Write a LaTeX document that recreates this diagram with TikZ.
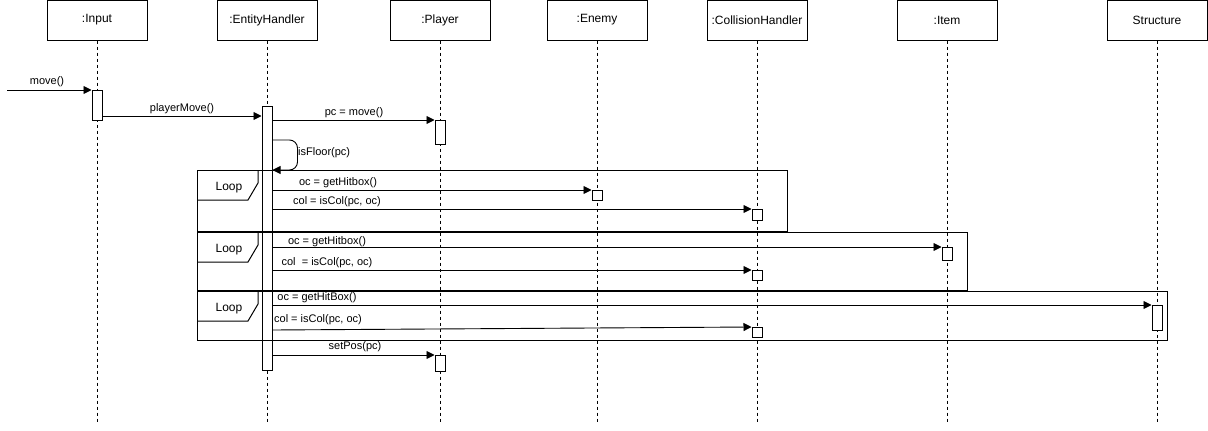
\documentclass[tikz,border=0pt]{standalone}
\usepackage{fontspec}
\setmainfont{Liberation Sans}
\usetikzlibrary{arrows.meta}

\begin{document}
\begin{tikzpicture}[x=1pt,y=-1pt]
  \tikzset{object/.style = {shape=rectangle,draw,line width=1pt,minimum width=100pt,minimum height=40pt,inner sep=0pt,font=\fontsize{12}{14}\selectfont}}
  \tikzset{act/.style = {shape=rectangle,draw,fill=white,line width=1pt,minimum width=10pt,inner sep=0pt,anchor=north}}
  \tikzset{msg/.style = {-{Triangle[length=8pt,width=8pt]},line width=0.9pt}}
  \tikzset{life/.style = {dash pattern=on 3pt off 3pt,line width=0.8pt}}
  \tikzset{lbl/.style = {font=\fontsize{11}{13}\selectfont,inner sep=0pt}}
  \tikzset{frame/.style = {line width=1pt}}

  \useasboundingbox (0,0) rectangle (1208,431);

  % objects
  \node[object] (In) at (97,20) {:Input};
  \node[object] (EH) at (267,20) {:EntityHandler};
  \node[object] (Pl) at (440,20) {:Player};
  \node[object] (En) at (597,20) {:Enemy};
  \node[object] (CH) at (757,20) {:CollisionHandler};
  \node[object] (It) at (947,20) {:Item};
  \node[object] (St) at (1157,20) {Structure};

  \coordinate (bottom) at (0,422);
  \foreach \o in {In,EH,Pl,En,CH,It,St}
    \draw[life] (\o.south) -- (\o.south |- bottom);

  % activations
  \node[act,minimum height=30pt] (InA) at (97,90) {};
  \node[act,minimum height=264pt] (EHA) at (267,106) {};
  \node[act,minimum height=24pt] (PlA) at (440,120) {};
  \node[act,minimum height=10pt] (EnA) at (597,190) {};
  \node[act,minimum height=11pt] (CHA) at (757,209) {};
  \node[act,minimum height=13pt] (ItA) at (947,247) {};
  \node[act,minimum height=10pt] (CHB) at (757,270) {};
  \node[act,minimum height=25pt] (StA) at (1157,305) {};
  \node[act,minimum height=10pt] (CHC) at (757,327) {};
  \node[act,minimum height=16pt] (PlB) at (440,355) {};

  % loop frames
  \foreach \t/\b/\r/\n in {170/231/787/1, 232/290/967/2, 291/340/1167/3} {
    \draw[frame] (197,\t) rectangle (\r,\b);
    \draw[frame] (258,\t) -- (258,\t+13) -- (248,\t+30) -- (197,\t+30);
    \node[lbl,font=\fontsize{12}{14}\selectfont] (loop\n) at (229,\t+18) {Loop};
  }

  % messages
  \coordinate (start) at (7,90);
  \draw[msg] (start) -- (InA.north west);
  \coordinate (pmY) at (0,116);
  \draw[msg] (InA.east |- pmY) -- (EHA.west |- pmY);
  \draw[msg] (EHA.east |- PlA.north west) -- (PlA.north west);

  \coordinate (sfA) at (EHA.east |- 0,140);
  \coordinate (sfB) at (EHA.east |- 0,170);
  \draw[msg,rounded corners=8pt] (sfA) -- ++(25,0) |- (sfB);

  \foreach \to in {EnA,CHA,ItA,CHB,StA}
    \draw[msg] (EHA.east |- \to.north west) -- (\to.north west);
  \coordinate (colC) at (EHA.east |- 0,330);
  \draw[msg] (colC) -- (CHC.north west);
  \draw[msg] (EHA.east |- PlB.north west) -- (PlB.north west);

  % labels
  \node[lbl] (lMove) at (47,82) {move()};
  \node[lbl] (lPlayerMove) at (182,109) {playerMove()};
  \node[lbl] (lPcMove) at (354,113) {pc = move()};
  \node[lbl,anchor=west] (lIsFloor) at (298,153) {isFloor(pc)};
  \node[lbl] (lHit1) at (338,183) {oc = getHitbox()};
  \node[lbl] (lCol1) at (337,202) {col = isCol(pc, oc)};
  \node[lbl] (lHit2) at (327,242) {oc = getHitbox()};
  \node[lbl] (lCol2) at (327,263) {col\ \ = isCol(pc, oc)};
  \node[lbl] (lHit3) at (317,298) {oc = getHitBox()};
  \node[lbl] (lCol3) at (318,320) {col = isCol(pc, oc)};
  \node[lbl] (lSetPos) at (355,347) {setPos(pc)};
\end{tikzpicture}
\end{document}
